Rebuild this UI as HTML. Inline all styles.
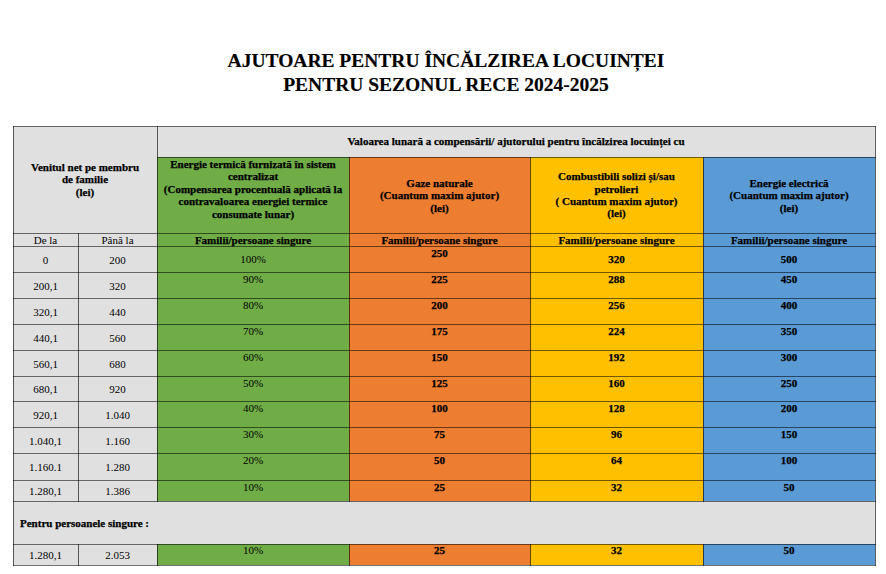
<!DOCTYPE html>
<html><head><meta charset="utf-8"><style>
html,body{margin:0;padding:0;background:#fff;width:886px;height:574px;overflow:hidden;position:relative}
.r{position:absolute}
.t{position:absolute;font-family:"Liberation Serif",serif;color:#000;white-space:nowrap}
.b{font-weight:bold;-webkit-text-stroke:0.25px #000}
</style></head><body>
<div class="r" style="left:13px;top:126px;width:144px;height:375px;background:#e0e0e0"></div>
<div class="r" style="left:157px;top:126px;width:718px;height:31px;background:#e0e0e0"></div>
<div class="r" style="left:13px;top:501px;width:862px;height:43px;background:#e0e0e0"></div>
<div class="r" style="left:13px;top:544px;width:144px;height:21px;background:#e0e0e0"></div>
<div class="r" style="left:157px;top:157px;width:192px;height:344px;background:#70ad47"></div>
<div class="r" style="left:157px;top:544px;width:192px;height:21px;background:#70ad47"></div>
<div class="r" style="left:349px;top:157px;width:181px;height:344px;background:#ed7d31"></div>
<div class="r" style="left:349px;top:544px;width:181px;height:21px;background:#ed7d31"></div>
<div class="r" style="left:530px;top:157px;width:173px;height:344px;background:#ffc000"></div>
<div class="r" style="left:530px;top:544px;width:173px;height:21px;background:#ffc000"></div>
<div class="r" style="left:703px;top:157px;width:172px;height:344px;background:#5b9bd5"></div>
<div class="r" style="left:703px;top:544px;width:172px;height:21px;background:#5b9bd5"></div>
<div class="r" style="left:13px;top:126px;width:863px;height:1px;background:rgba(0,0,0,0.55)"></div>
<div class="r" style="left:157px;top:157px;width:719px;height:1px;background:rgba(0,0,0,0.55)"></div>
<div class="r" style="left:13px;top:233px;width:863px;height:1px;background:rgba(0,0,0,0.55)"></div>
<div class="r" style="left:13px;top:246px;width:863px;height:1px;background:rgba(0,0,0,0.55)"></div>
<div class="r" style="left:13px;top:272px;width:863px;height:1px;background:rgba(0,0,0,0.55)"></div>
<div class="r" style="left:13px;top:298px;width:863px;height:1px;background:rgba(0,0,0,0.55)"></div>
<div class="r" style="left:13px;top:324px;width:863px;height:1px;background:rgba(0,0,0,0.55)"></div>
<div class="r" style="left:13px;top:350px;width:863px;height:1px;background:rgba(0,0,0,0.55)"></div>
<div class="r" style="left:13px;top:376px;width:863px;height:1px;background:rgba(0,0,0,0.55)"></div>
<div class="r" style="left:13px;top:401px;width:863px;height:1px;background:rgba(0,0,0,0.55)"></div>
<div class="r" style="left:13px;top:427px;width:863px;height:1px;background:rgba(0,0,0,0.55)"></div>
<div class="r" style="left:13px;top:453px;width:863px;height:1px;background:rgba(0,0,0,0.55)"></div>
<div class="r" style="left:13px;top:480px;width:863px;height:1px;background:rgba(0,0,0,0.55)"></div>
<div class="r" style="left:13px;top:501px;width:863px;height:1px;background:rgba(0,0,0,0.55)"></div>
<div class="r" style="left:13px;top:544px;width:863px;height:1px;background:rgba(0,0,0,0.55)"></div>
<div class="r" style="left:13px;top:565px;width:863px;height:1px;background:rgba(0,0,0,0.55)"></div>
<div class="r" style="left:13px;top:126px;width:1px;height:440px;background:rgba(0,0,0,0.62)"></div>
<div class="r" style="left:875px;top:126px;width:1px;height:440px;background:rgba(0,0,0,0.62)"></div>
<div class="r" style="left:157px;top:126px;width:1px;height:376px;background:rgba(0,0,0,0.62)"></div>
<div class="r" style="left:157px;top:544px;width:1px;height:22px;background:rgba(0,0,0,0.62)"></div>
<div class="r" style="left:78px;top:233px;width:1px;height:269px;background:rgba(0,0,0,0.62)"></div>
<div class="r" style="left:78px;top:544px;width:1px;height:22px;background:rgba(0,0,0,0.62)"></div>
<div class="r" style="left:349px;top:157px;width:1px;height:345px;background:rgba(0,0,0,0.62)"></div>
<div class="r" style="left:349px;top:544px;width:1px;height:22px;background:rgba(0,0,0,0.62)"></div>
<div class="r" style="left:530px;top:157px;width:1px;height:345px;background:rgba(0,0,0,0.62)"></div>
<div class="r" style="left:530px;top:544px;width:1px;height:22px;background:rgba(0,0,0,0.62)"></div>
<div class="r" style="left:703px;top:157px;width:1px;height:345px;background:rgba(0,0,0,0.62)"></div>
<div class="r" style="left:703px;top:544px;width:1px;height:22px;background:rgba(0,0,0,0.62)"></div>
<div class="t b" style="left:0px;top:48.62px;width:892px;font-size:19.5px;line-height:24.6px;text-align:center;-webkit-text-stroke:0.15px #000;">AJUTOARE PENTRU ÎNCĂLZIREA LOCUINȚEI<br>PENTRU SEZONUL RECE 2024-2025</div>
<div class="t b" style="left:13px;top:160.84px;width:144px;font-size:11px;line-height:12.5px;text-align:center;">Venitul net pe membru<br>de familie<br>(lei)</div>
<div class="t b" style="left:157px;top:135.04px;width:718px;font-size:11px;line-height:12.5px;text-align:center;">Valoarea lunară a compensării/ ajutorului pentru încălzirea locuinței cu</div>
<div class="t b" style="left:157px;top:157.84px;width:192px;font-size:11px;line-height:12.5px;text-align:center;">Energie termică furnizată în sistem<br>centralizat<br>(Compensarea procentuală aplicată la<br>contravaloarea energiei termice<br>consumate lunar)</div>
<div class="t b" style="left:349px;top:176.84px;width:181px;font-size:11px;line-height:12.5px;text-align:center;">Gaze naturale<br>(Cuantum maxim ajutor)<br>(lei)</div>
<div class="t b" style="left:530px;top:170.44px;width:173px;font-size:11px;line-height:12.3px;text-align:center;">Combustibili solizi și/sau<br>petrolieri<br>( Cuantum maxim ajutor)<br>(lei)</div>
<div class="t b" style="left:703px;top:176.74px;width:172px;font-size:11px;line-height:12.5px;text-align:center;">Energie electrică<br>(Cuantum maxim ajutor)<br>(lei)</div>
<div class="t" style="left:13px;top:233.74px;width:65px;font-size:11px;line-height:12.5px;text-align:center;">De la</div>
<div class="t" style="left:78px;top:233.74px;width:79px;font-size:11px;line-height:12.5px;text-align:center;">Până la</div>
<div class="t b" style="left:157px;top:233.84px;width:192px;font-size:11px;line-height:12.5px;text-align:center;">Familii/persoane singure</div>
<div class="t b" style="left:349px;top:233.84px;width:181px;font-size:11px;line-height:12.5px;text-align:center;">Familii/persoane singure</div>
<div class="t b" style="left:530px;top:233.84px;width:173px;font-size:11px;line-height:12.5px;text-align:center;">Familii/persoane singure</div>
<div class="t b" style="left:703px;top:233.84px;width:172px;font-size:11px;line-height:12.5px;text-align:center;">Familii/persoane singure</div>
<div class="t" style="left:13px;top:253.84px;width:65px;font-size:11px;line-height:12.5px;text-align:center;">0</div>
<div class="t" style="left:78px;top:253.84px;width:79px;font-size:11px;line-height:12.5px;text-align:center;">200</div>
<div class="t" style="left:157px;top:253.24px;width:192px;font-size:11px;line-height:12.5px;text-align:center;">100%</div>
<div class="t b" style="left:349px;top:246.84px;width:181px;font-size:11px;line-height:12.5px;text-align:center;">250</div>
<div class="t b" style="left:530px;top:253.24px;width:173px;font-size:11px;line-height:12.5px;text-align:center;">320</div>
<div class="t b" style="left:703px;top:253.24px;width:172px;font-size:11px;line-height:12.5px;text-align:center;">500</div>
<div class="t" style="left:13px;top:279.84px;width:65px;font-size:11px;line-height:12.5px;text-align:center;">200,1</div>
<div class="t" style="left:78px;top:279.84px;width:79px;font-size:11px;line-height:12.5px;text-align:center;">320</div>
<div class="t" style="left:157px;top:272.84px;width:192px;font-size:11px;line-height:12.5px;text-align:center;">90%</div>
<div class="t b" style="left:349px;top:272.84px;width:181px;font-size:11px;line-height:12.5px;text-align:center;">225</div>
<div class="t b" style="left:530px;top:272.84px;width:173px;font-size:11px;line-height:12.5px;text-align:center;">288</div>
<div class="t b" style="left:703px;top:272.84px;width:172px;font-size:11px;line-height:12.5px;text-align:center;">450</div>
<div class="t" style="left:13px;top:305.84px;width:65px;font-size:11px;line-height:12.5px;text-align:center;">320,1</div>
<div class="t" style="left:78px;top:305.84px;width:79px;font-size:11px;line-height:12.5px;text-align:center;">440</div>
<div class="t" style="left:157px;top:298.84px;width:192px;font-size:11px;line-height:12.5px;text-align:center;">80%</div>
<div class="t b" style="left:349px;top:298.84px;width:181px;font-size:11px;line-height:12.5px;text-align:center;">200</div>
<div class="t b" style="left:530px;top:298.84px;width:173px;font-size:11px;line-height:12.5px;text-align:center;">256</div>
<div class="t b" style="left:703px;top:298.84px;width:172px;font-size:11px;line-height:12.5px;text-align:center;">400</div>
<div class="t" style="left:13px;top:331.84px;width:65px;font-size:11px;line-height:12.5px;text-align:center;">440,1</div>
<div class="t" style="left:78px;top:331.84px;width:79px;font-size:11px;line-height:12.5px;text-align:center;">560</div>
<div class="t" style="left:157px;top:324.84px;width:192px;font-size:11px;line-height:12.5px;text-align:center;">70%</div>
<div class="t b" style="left:349px;top:324.84px;width:181px;font-size:11px;line-height:12.5px;text-align:center;">175</div>
<div class="t b" style="left:530px;top:324.84px;width:173px;font-size:11px;line-height:12.5px;text-align:center;">224</div>
<div class="t b" style="left:703px;top:324.84px;width:172px;font-size:11px;line-height:12.5px;text-align:center;">350</div>
<div class="t" style="left:13px;top:357.84px;width:65px;font-size:11px;line-height:12.5px;text-align:center;">560,1</div>
<div class="t" style="left:78px;top:357.84px;width:79px;font-size:11px;line-height:12.5px;text-align:center;">680</div>
<div class="t" style="left:157px;top:350.84px;width:192px;font-size:11px;line-height:12.5px;text-align:center;">60%</div>
<div class="t b" style="left:349px;top:350.84px;width:181px;font-size:11px;line-height:12.5px;text-align:center;">150</div>
<div class="t b" style="left:530px;top:350.84px;width:173px;font-size:11px;line-height:12.5px;text-align:center;">192</div>
<div class="t b" style="left:703px;top:350.84px;width:172px;font-size:11px;line-height:12.5px;text-align:center;">300</div>
<div class="t" style="left:13px;top:383.34px;width:65px;font-size:11px;line-height:12.5px;text-align:center;">680,1</div>
<div class="t" style="left:78px;top:383.34px;width:79px;font-size:11px;line-height:12.5px;text-align:center;">920</div>
<div class="t" style="left:157px;top:376.84px;width:192px;font-size:11px;line-height:12.5px;text-align:center;">50%</div>
<div class="t b" style="left:349px;top:376.84px;width:181px;font-size:11px;line-height:12.5px;text-align:center;">125</div>
<div class="t b" style="left:530px;top:376.84px;width:173px;font-size:11px;line-height:12.5px;text-align:center;">160</div>
<div class="t b" style="left:703px;top:376.84px;width:172px;font-size:11px;line-height:12.5px;text-align:center;">250</div>
<div class="t" style="left:13px;top:408.84px;width:65px;font-size:11px;line-height:12.5px;text-align:center;">920,1</div>
<div class="t" style="left:78px;top:408.84px;width:79px;font-size:11px;line-height:12.5px;text-align:center;">1.040</div>
<div class="t" style="left:157px;top:401.84px;width:192px;font-size:11px;line-height:12.5px;text-align:center;">40%</div>
<div class="t b" style="left:349px;top:401.84px;width:181px;font-size:11px;line-height:12.5px;text-align:center;">100</div>
<div class="t b" style="left:530px;top:401.84px;width:173px;font-size:11px;line-height:12.5px;text-align:center;">128</div>
<div class="t b" style="left:703px;top:401.84px;width:172px;font-size:11px;line-height:12.5px;text-align:center;">200</div>
<div class="t" style="left:13px;top:434.84px;width:65px;font-size:11px;line-height:12.5px;text-align:center;">1.040,1</div>
<div class="t" style="left:78px;top:434.84px;width:79px;font-size:11px;line-height:12.5px;text-align:center;">1.160</div>
<div class="t" style="left:157px;top:427.84px;width:192px;font-size:11px;line-height:12.5px;text-align:center;">30%</div>
<div class="t b" style="left:349px;top:427.84px;width:181px;font-size:11px;line-height:12.5px;text-align:center;">75</div>
<div class="t b" style="left:530px;top:427.84px;width:173px;font-size:11px;line-height:12.5px;text-align:center;">96</div>
<div class="t b" style="left:703px;top:427.84px;width:172px;font-size:11px;line-height:12.5px;text-align:center;">150</div>
<div class="t" style="left:13px;top:461.34px;width:65px;font-size:11px;line-height:12.5px;text-align:center;">1.160.1</div>
<div class="t" style="left:78px;top:461.34px;width:79px;font-size:11px;line-height:12.5px;text-align:center;">1.280</div>
<div class="t" style="left:157px;top:453.84px;width:192px;font-size:11px;line-height:12.5px;text-align:center;">20%</div>
<div class="t b" style="left:349px;top:453.84px;width:181px;font-size:11px;line-height:12.5px;text-align:center;">50</div>
<div class="t b" style="left:530px;top:453.84px;width:173px;font-size:11px;line-height:12.5px;text-align:center;">64</div>
<div class="t b" style="left:703px;top:453.84px;width:172px;font-size:11px;line-height:12.5px;text-align:center;">100</div>
<div class="t" style="left:13px;top:485.34px;width:65px;font-size:11px;line-height:12.5px;text-align:center;">1.280,1</div>
<div class="t" style="left:78px;top:485.34px;width:79px;font-size:11px;line-height:12.5px;text-align:center;">1.386</div>
<div class="t" style="left:157px;top:480.84px;width:192px;font-size:11px;line-height:12.5px;text-align:center;">10%</div>
<div class="t b" style="left:349px;top:480.84px;width:181px;font-size:11px;line-height:12.5px;text-align:center;">25</div>
<div class="t b" style="left:530px;top:480.84px;width:173px;font-size:11px;line-height:12.5px;text-align:center;">32</div>
<div class="t b" style="left:703px;top:480.84px;width:172px;font-size:11px;line-height:12.5px;text-align:center;">50</div>
<div class="t b" style="left:20px;top:516.54px;width:580px;font-size:11px;line-height:12.5px;text-align:left;">Pentru persoanele singure :</div>
<div class="t" style="left:13px;top:548.74px;width:65px;font-size:11px;line-height:12.5px;text-align:center;">1.280,1</div>
<div class="t" style="left:78px;top:548.74px;width:79px;font-size:11px;line-height:12.5px;text-align:center;">2.053</div>
<div class="t" style="left:157px;top:543.54px;width:192px;font-size:11px;line-height:12.5px;text-align:center;">10%</div>
<div class="t b" style="left:349px;top:543.54px;width:181px;font-size:11px;line-height:12.5px;text-align:center;">25</div>
<div class="t b" style="left:530px;top:543.54px;width:173px;font-size:11px;line-height:12.5px;text-align:center;">32</div>
<div class="t b" style="left:703px;top:543.54px;width:172px;font-size:11px;line-height:12.5px;text-align:center;">50</div>
</body></html>
